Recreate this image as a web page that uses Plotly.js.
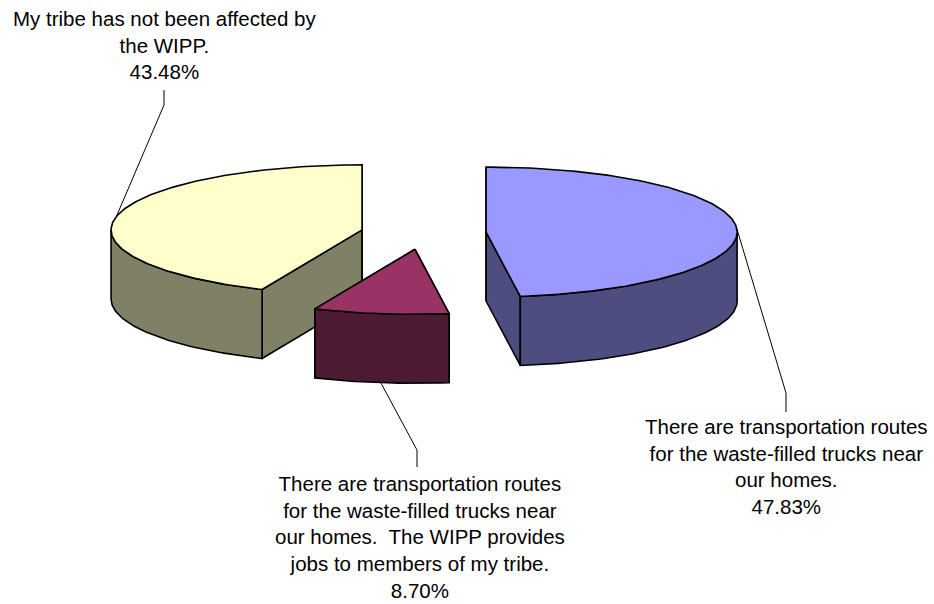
<!DOCTYPE html>
<html>
<head>
<meta charset="utf-8">
<script src="https://cdn.plot.ly/plotly-3.0.1.min.js"></script>
<style>html,body{margin:0;padding:0;background:#fff;}#chart{width:934px;height:604px;}</style>
</head>
<body>
<div id="chart"></div>
<script>
// ---- data ----
const categories = [
  "There are transportation routes<br>for the waste-filled trucks near<br>our homes.",
  "There are transportation routes<br>for the waste-filled trucks near<br>our homes.\u00a0 The WIPP provides<br>jobs to members of my tribe.",
  "My tribe has not been affected by<br>the WIPP."
];
const counts = [11, 2, 10];
const topColors = ["#9999FF", "#993366", "#FFFFCC"];
const sideColors = ["#4D4D80", "#4D1A33", "#808066"];

// ---- layout constants (pixels in a 934x604 frame) ----
const W = 934, H = 604;
const CX0 = 423.5, CY0 = 233.2, RX = 251, RY = 65, DEPTH = 69, EXPLODE = 0.25;
// label centres and leader anchor (label end of the leader line)
const labelPos = [
  {x: 786.5, y: 466, lx: 786, ly1: 412, ly2: 393},
  {x: 419.5, y: 537, lx: 417, ly1: 467, ly2: 450},
  {x: 164.5, y: 44.5, lx: 164, ly1: 90, ly2: 105}
];

const rad = d => d * Math.PI / 180;
const total = counts.reduce((s, v) => s + v, 0);
const slices = [];
let acc = 0;
counts.forEach((v, i) => {
  const a0 = acc, a1 = acc + v / total * 360;
  acc = a1;
  const mid = (a0 + a1) / 2;
  const cx = CX0 + EXPLODE * RX * Math.sin(rad(mid));
  const cy = CY0 - EXPLODE * RY * Math.cos(rad(mid));
  slices.push({i, a0, a1, mid, cx, cy});
});

function pt(s, t, dz) {
  return [s.cx + RX * Math.sin(rad(t)), s.cy - RY * Math.cos(rad(t)) + dz];
}
function arc(s, from, to, dz) {
  const n = Math.max(2, Math.ceil(Math.abs(to - from)));
  const out = [];
  for (let k = 0; k <= n; k++) out.push(pt(s, from + (to - from) * k / n, dz));
  return out;
}
function poly(points, fill) {
  return {
    type: "scatter", mode: "lines", fill: "toself", fillcolor: fill,
    x: points.map(p => p[0]).concat([points[0][0]]),
    y: points.map(p => p[1]).concat([points[0][1]]),
    line: {color: "#000", width: 1.6}, hoverinfo: "skip", showlegend: false
  };
}

const traces = [];
slices.slice().sort((a, b) => a.cy - b.cy).forEach(s => {
  const side = sideColors[s.i], top = topColors[s.i];
  [s.a0, s.a1].forEach(a => {
    traces.push(poly([[s.cx, s.cy], pt(s, a, 0), pt(s, a, DEPTH), [s.cx, s.cy + DEPTH]], side));
  });
  const ws = Math.max(s.a0, 90), we = Math.min(s.a1, 270);
  if (we > ws) {
    traces.push(poly(arc(s, ws, we, 0).concat(arc(s, we, ws, DEPTH)), side));
  }
  traces.push(poly([[s.cx, s.cy]].concat(arc(s, s.a0, s.a1, 0)), top));
});

// leader lines
const annotations = [];
slices.forEach(s => {
  const L = labelPos[s.i];
  const front = Math.cos(rad(s.mid)) < 0;
  const p = pt(s, s.mid, front ? DEPTH : 0);
  traces.push({
    type: "scatter", mode: "lines",
    x: [L.lx, L.lx, p[0]], y: [L.ly1, L.ly2, p[1]],
    line: {color: "#000", width: 1}, hoverinfo: "skip", showlegend: false
  });
  annotations.push({
    x: L.x, y: L.y, xref: "x", yref: "y", showarrow: false,
    xanchor: "center", yanchor: "middle", align: "center",
    text: categories[s.i] + "<br>" + (counts[s.i] / total * 100).toFixed(2) + "%",
    font: {family: "Liberation Sans, Arial, sans-serif", size: 20.5, color: "#000"}
  });
});

const layout = {
  width: W, height: H,
  margin: {l: 0, r: 0, t: 0, b: 0},
  paper_bgcolor: "#fff", plot_bgcolor: "#fff",
  xaxis: {range: [0, W], visible: false, fixedrange: true},
  yaxis: {range: [H, 0], visible: false, fixedrange: true},
  showlegend: false,
  annotations
};
Plotly.newPlot("chart", traces, layout, {staticPlot: true, displayModeBar: false});
</script>
</body>
</html>
